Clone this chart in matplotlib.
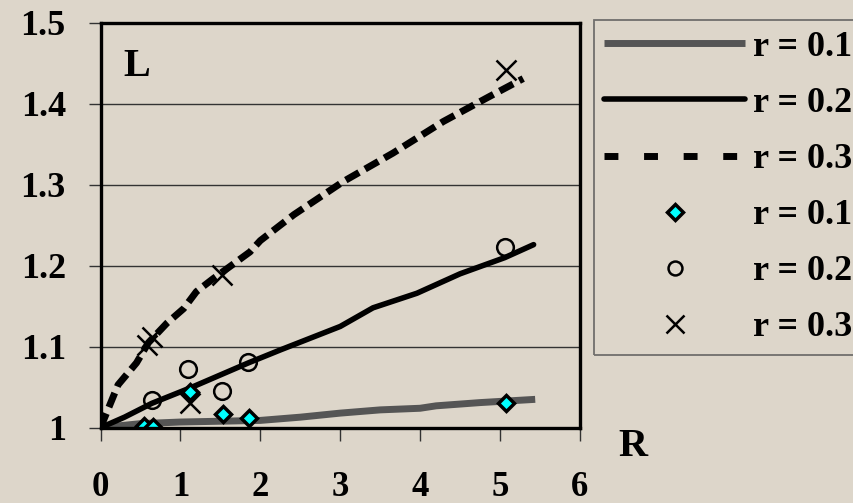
import matplotlib
matplotlib.use("Agg")
import matplotlib.pyplot as plt
from matplotlib.lines import Line2D

plt.rcParams['font.family'] = ['Liberation Serif', 'DejaVu Serif']
plt.rcParams['font.weight'] = 'bold'
plt.rcParams['lines.scale_dashes'] = False

BG = '#ddd6ca'

# model curves
r1_x = [0, 0.5, 1.0, 1.5, 2.0, 2.5, 3.0, 3.5, 4.0, 4.2, 4.75, 5.44]
r1_y = [1.0, 1.005, 1.007, 1.008, 1.009, 1.013, 1.018, 1.022, 1.024, 1.027, 1.031, 1.035]
r2_x = [0, 0.3, 0.64, 1.12, 1.85, 2.25, 3.0, 3.41, 3.96, 4.5, 5.06, 5.42]
r2_y = [1.0, 1.013, 1.03, 1.049, 1.08, 1.096, 1.125, 1.148, 1.166, 1.19, 1.21, 1.226]
r3_x = [0, 0.22, 0.45, 0.6, 0.83, 1.04, 1.2, 1.41, 1.62, 1.87, 2.0, 2.42, 3.04, 3.66, 4.29, 4.87, 5.29]
r3_y = [1.0, 1.053, 1.08, 1.105, 1.129, 1.147, 1.168, 1.184, 1.199, 1.217, 1.231, 1.263, 1.304, 1.339, 1.378, 1.409, 1.431]

# measured points
p1_x = [0.54, 0.66, 1.12, 1.53, 1.86, 5.08]
p1_y = [1.002, 1.001, 1.044, 1.017, 1.012, 1.031]
p2_x = [0.64, 1.10, 1.52, 1.85, 5.06]
p2_y = [1.034, 1.073, 1.045, 1.081, 1.223]
p3_x = [0.58, 0.64, 1.12, 1.52, 5.08]
p3_y = [1.102, 1.112, 1.030, 1.188, 1.442]

labels = ['r = 0.1', 'r = 0.2', 'r = 0.3']

fig = plt.figure(figsize=(8.54, 5.03), dpi=100, facecolor=BG)
ax = fig.add_axes([0.1177, 0.1497, 0.5614, 0.8052])
ax.set_facecolor(BG)

ax.plot(r1_x, r1_y, color='#555555', lw=5, solid_capstyle='butt')
ax.plot(r2_x, r2_y, color='black', lw=4, solid_capstyle='round')
ax.plot(r3_x, r3_y, color='black', lw=5, dashes=(11, 5), dash_capstyle='butt')

ax.plot(p1_x, p1_y, 'D', ms=8.5, mfc='#00ffff', mec='black', mew=2.5, ls='none')
ax.plot(p2_x, p2_y, 'o', ms=12, mfc='none', mec='black', mew=1.8, ls='none')
ax.plot(p3_x, p3_y, 'x', ms=15, mec='black', mew=1.8, ls='none')

ax.set_xlim(0, 6)
ax.set_ylim(1.0, 1.5)
ax.set_xticks(range(0, 7))
ax.set_yticks([1.0, 1.1, 1.2, 1.3, 1.4, 1.5])
ax.set_yticklabels(['1', '1.1', '1.2', '1.3', '1.4', '1.5'])
ax.yaxis.grid(True, color='#333333', lw=1.0)
ax.set_axisbelow(True)
for s in ax.spines.values():
    s.set_linewidth(2.4)
ax.tick_params(axis='y', length=9, width=1, color='#333333', pad=16, labelsize=26)
ax.tick_params(axis='x', length=9, width=1, color='#333333', pad=22, labelsize=25)

ax.text(0.047, 0.893, 'L', transform=ax.transAxes, fontsize=29, fontweight='bold',
        ha='left', va='center')
fig.text(0.741, 0.113, 'R', fontsize=29, fontweight='bold', ha='center', va='center')

# legend keys, the dashed one with wider gaps than on the curve
handles = [
    Line2D([], [], color='#555555', lw=5, solid_capstyle='butt'),
    Line2D([], [], color='black', lw=4, solid_capstyle='round'),
    Line2D([], [], color='black', lw=5, dashes=(10, 18.5), dash_capstyle='butt'),
    Line2D([], [], marker='D', ms=8.5, mfc='#00ffff', mec='black', mew=2.5, ls='none'),
    Line2D([], [], marker='o', ms=10, mfc='none', mec='black', mew=1.8, ls='none'),
    Line2D([], [], marker='x', ms=13, mec='black', mew=1.8, ls='none'),
]
leg = ax.legend(handles, labels + labels, loc='upper left',
                bbox_to_anchor=(593.5 / 854, 1 - 20 / 503),
                bbox_transform=fig.transFigure,
                fontsize=26, handlelength=3.9, handletextpad=0.22, borderpad=0.3,
                labelspacing=0.63, frameon=True, fancybox=False, borderaxespad=0)
leg.get_frame().set_facecolor('none')
leg.get_frame().set_edgecolor('#555555')
leg.get_frame().set_linewidth(1.3)

fig.savefig('out.png', dpi=100, facecolor=BG)
